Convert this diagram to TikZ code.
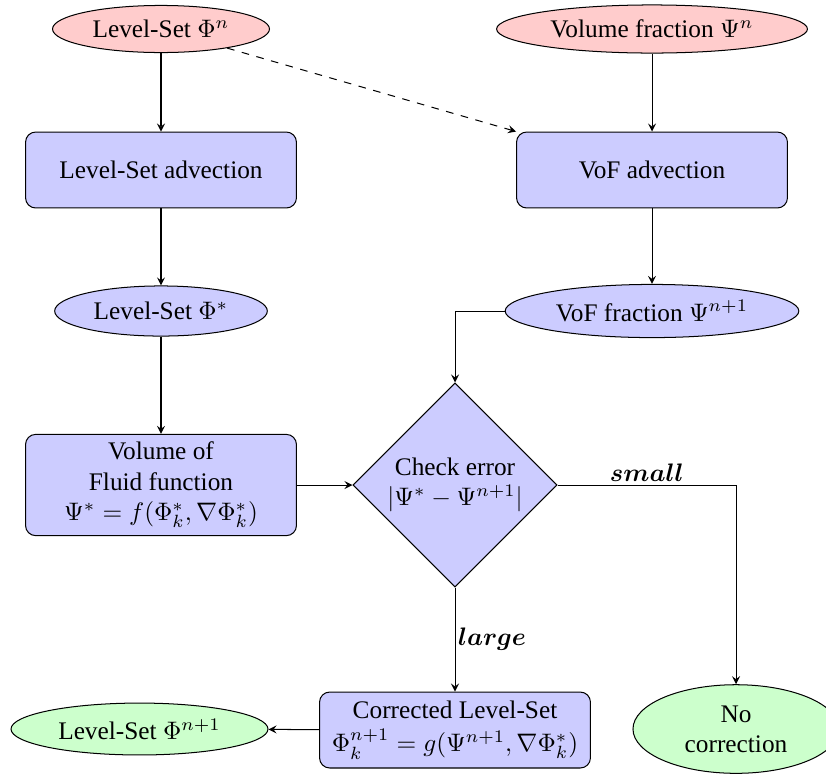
\documentclass[tikz,border=0pt]{standalone}
\usepackage{amsmath}
\usepackage[no-math]{fontspec}
\setmainfont{Liberation Serif}
\usetikzlibrary{shapes.geometric}

\begin{document}
\begin{tikzpicture}[x=0.395pt,y=-0.395pt]
   \tikzstyle{every node}=[inner sep=1pt, align=center]
   \tikzstyle{input}=[draw, ellipse, fill=red!20]
   \tikzstyle{state}=[draw, ellipse, fill=blue!20]
   \tikzstyle{output}=[draw, ellipse, fill=green!20]
   \tikzstyle{block}=[draw, rounded corners=4pt, fill=blue!20, minimum width=107pt, minimum height=30pt]
   \tikzstyle{decision}=[draw, diamond, fill=blue!20, minimum width=80.6pt, minimum height=80.6pt, inner sep=0pt]
   \tikzstyle{line}=[draw, -stealth]

\useasboundingbox (0,0) rectangle (826,773);

\node[input, minimum width=85.7pt, minimum height=18.6pt] (lsn) at (161,29) {Level-Set $\Phi^n$};
\node[input, minimum width=122.8pt, minimum height=19pt] (vn) at (652,29) {Volume fraction $\Psi^n$};
\node[block] (lsadv) at (161,170) {Level-Set advection};
\node[block] (vofadv) at (652,170) {VoF advection};
\node[state, minimum width=84pt, minimum height=19.8pt] (lsstar) at (161,311) {Level-Set $\Phi^*$};
\node[state, minimum width=116pt, minimum height=21pt] (voffrac) at (652,311) {VoF fraction $\Psi^{n+1}$};
\node[block, minimum height=40pt] (voffunc) at (161,485) {Volume of\\ Fluid function\\ $\Psi^* = f(\Phi_k^*, \nabla\Phi_k^*)$};
\node[decision] (check) at (455,485) {Check error\\ $|\Psi^* - \Psi^{n+1}|$};
\node[block] (corr) at (455,730) {Corrected Level-Set\\[1pt] $\Phi_k^{n+1} = g(\Psi^{n+1}, \nabla\Phi_k^*)$};
\node[output, minimum width=101.5pt, minimum height=20.5pt] (lsnext) at (139.5,729) {Level-Set $\Phi^{n+1}$};
\node[output, minimum width=81.4pt, minimum height=35pt] (nocorr) at (736,729) {No\\ correction};

\path[line] (lsn) -- (lsadv);
\path[line] (vn) -- (vofadv);
\path[line, dashed] (lsn) -- (vofadv.north west);
\path[line] (lsadv) -- (lsstar);
\path[line] (vofadv) -- (voffrac);
\path[line] (lsstar) -- (voffunc);
\path[line] (voffunc) -- (check);
\path[line] (voffrac.west) -| (check.north);
\path[line] (check.east) -| node[pos=0.25, above] {$\boldsymbol{small}$} (nocorr.north);
\path[line] (check.south) -- node[right] {$\boldsymbol{large}$} (corr.north);
\path[line] (corr) -- (lsnext);

\end{tikzpicture}
\end{document}
